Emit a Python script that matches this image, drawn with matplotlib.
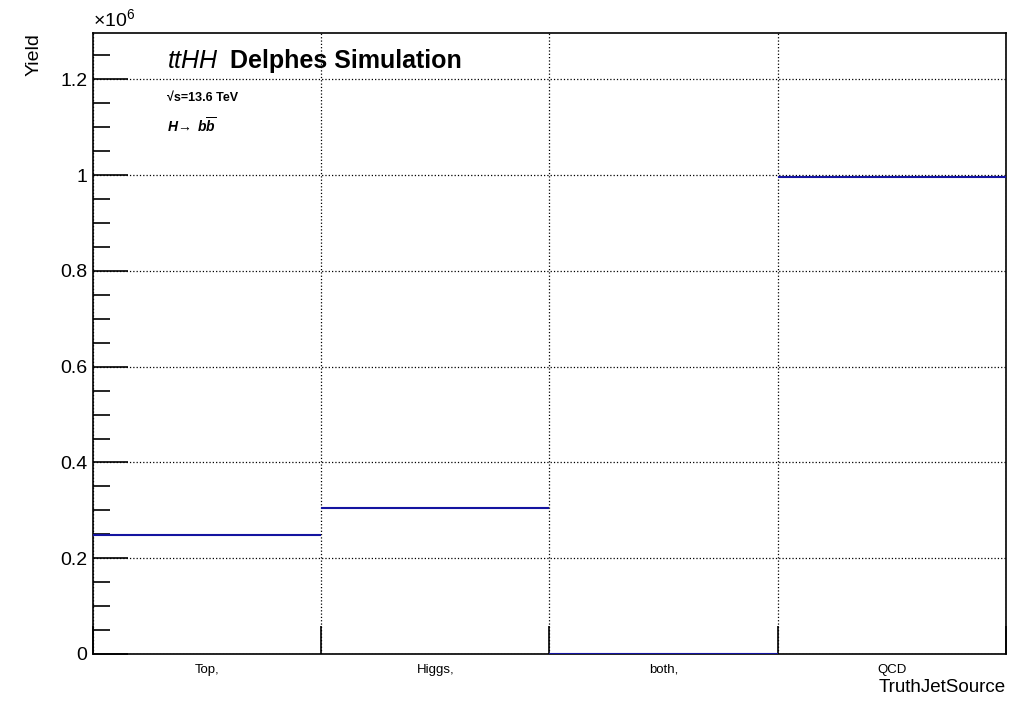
import numpy as np
from matplotlib import pyplot as plt
from matplotlib.ticker import MultipleLocator, FuncFormatter

plt.rcParams['font.family'] = ['Liberation Sans', 'DejaVu Sans']
plt.rcParams['mathtext.fontset'] = 'custom'
plt.rcParams['mathtext.rm'] = 'Liberation Sans'
plt.rcParams['mathtext.it'] = 'Liberation Sans:italic'
plt.rcParams['mathtext.bf'] = 'Liberation Sans:bold'
plt.rcParams['mathtext.bfit'] = 'Liberation Sans:italic:bold'

# TruthJetSource yields
categories = ['Top,', 'Higgs,', 'both,', 'QCD']
yields = np.array([0.248e6, 0.304e6, 0.0, 0.996e6])
edges = np.arange(len(categories) + 1)

fig = plt.figure(figsize=(10.26, 7.02), dpi=100)
ax = fig.add_axes([0.0906, 0.0684, 0.8899, 0.8846])

# histogram drawn as flat bin tops only
ax.hlines(yields, edges[:-1], edges[1:], color='#1414a0', linewidth=1.5, zorder=3)

ax.set_xlim(edges[0], edges[-1])
ax.set_ylim(0, 1.297e6)

# ROOT-like ticks
ax.yaxis.set_major_locator(MultipleLocator(0.2e6))
ax.yaxis.set_minor_locator(MultipleLocator(0.05e6))
ax.yaxis.set_major_formatter(FuncFormatter(lambda v, p: '0' if v == 0 else '%g' % (v / 1e6)))
ax.tick_params(axis='y', which='major', length=25, width=1.2, direction='in', labelsize=14, pad=4)
ax.tick_params(axis='y', which='minor', length=12, width=1.2, direction='in')

ax.set_xticks(edges)
ax.set_xticklabels([])
ax.set_xticks(edges[:-1] + 0.5, minor=True)
ax.set_xticklabels(categories, minor=True)
ax.tick_params(axis='x', which='major', length=20, width=1.2, direction='in')
ax.tick_params(axis='x', which='minor', length=0, labelsize=9.5, pad=7)

ax.grid(True, which='major', linestyle=':', color='black', linewidth=0.9)
for s in ax.spines.values():
    s.set_linewidth(1.2)

ax.text(0.0, 1.005, r'$\times10^{6}$', transform=ax.transAxes, fontsize=14, ha='left', va='bottom')
ax.set_xlabel('TruthJetSource', fontsize=13.5, loc='right')
ax.set_ylabel('Yield', fontsize=14, loc='top')
ax.yaxis.set_label_coords(-0.055, 1.0)
ax.xaxis.set_label_coords(1.0, -0.040)

ax.text(0.081, 0.955, r'$ttHH$', transform=ax.transAxes, fontsize=18, ha='left', va='center')
ax.text(0.150, 0.955, 'Delphes Simulation', transform=ax.transAxes, fontsize=18, fontweight='bold', ha='left', va='center')
ax.text(0.081, 0.895, '\u221as=13.6 TeV', transform=ax.transAxes, fontsize=9, fontweight='bold', ha='left', va='center')
ax.text(0.081, 0.851, r'$\mathbfit{H}\!\rightarrow\ \mathbfit{b}\overline{\mathbfit{b}}$',
        transform=ax.transAxes, fontsize=10, ha='left', va='center')

plt.savefig('out.png', dpi=100)
